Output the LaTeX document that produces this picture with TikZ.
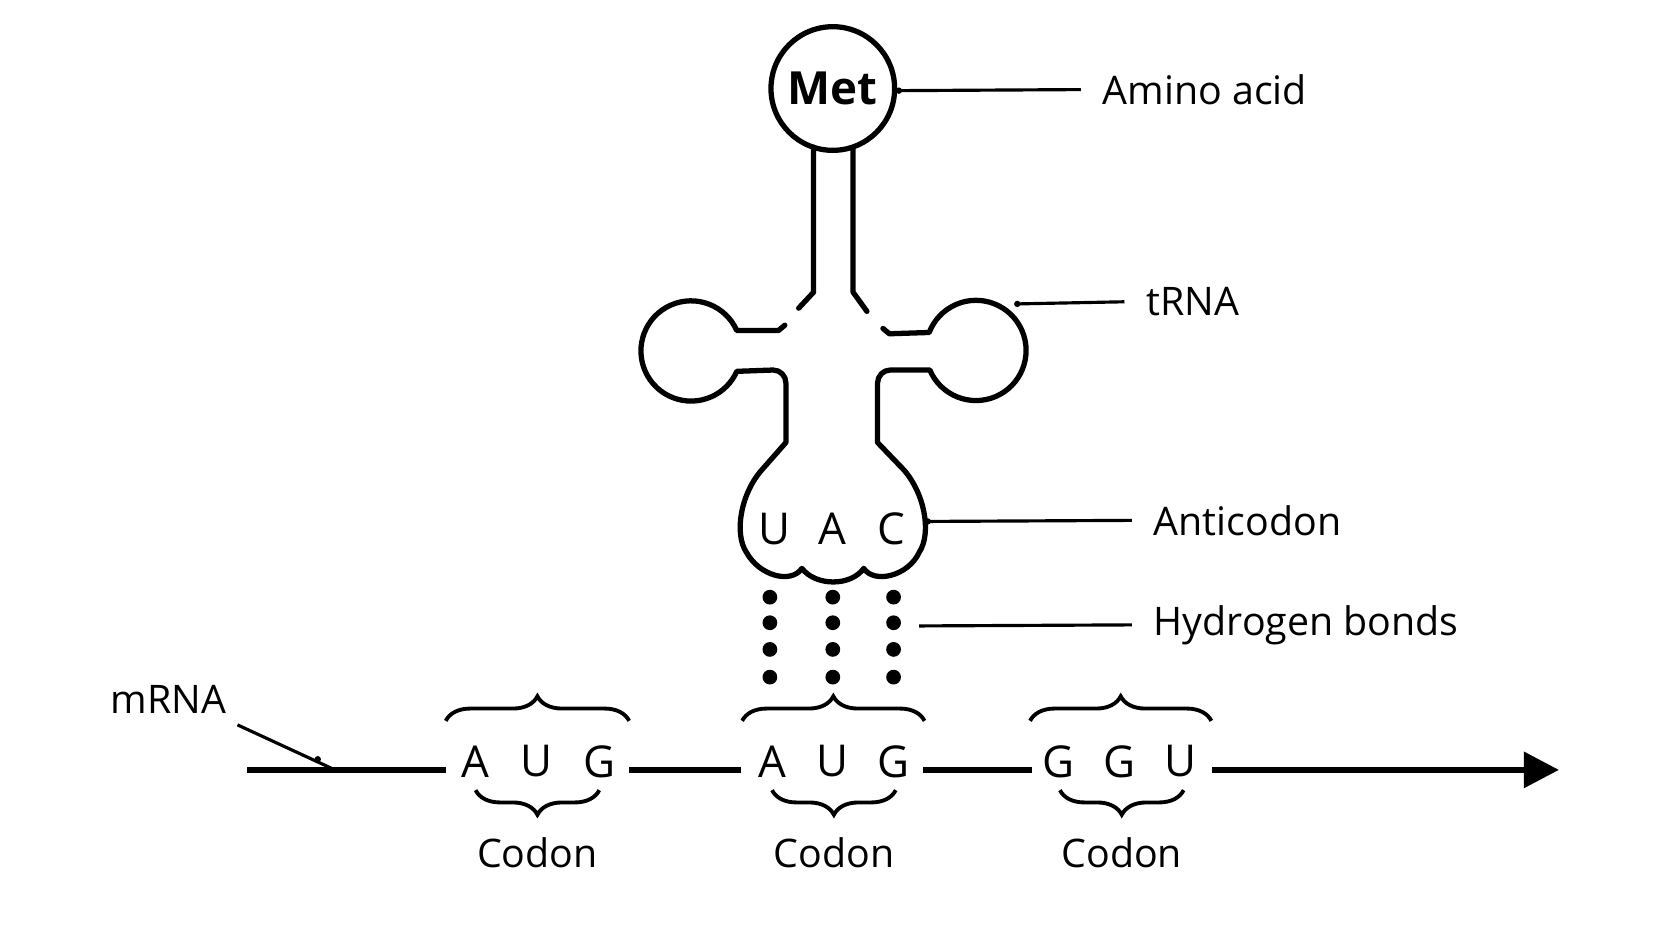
\documentclass[tikz,border=0pt]{standalone}
\usepackage{fontspec}
\setmainfont{Open Sans}
\usetikzlibrary{arrows.meta,decorations.pathreplacing,positioning}
\tikzset{
  strand/.style={line width=1.5pt,line cap=round,line join=round},
  lead/.style={line width=0.9pt},
  lbl/.style={font=\fontsize{11.2}{13}\selectfont,inner sep=1pt},
  base/.style={font=\fontsize{12.5}{15}\selectfont,inner sep=1pt},
  brc/.style={line width=1.1pt,decorate,decoration={brace,amplitude=7pt}},
  hb/.style={circle,fill,inner sep=0pt,minimum size=4.2pt},
}
\begin{document}
\begin{tikzpicture}[x=0.010663cm,y=-0.010663cm]
\useasboundingbox (0,0) rectangle (1568,882);
% amino acid and acceptor stem
    \node[circle,draw,line width=1.5pt,minimum size=1.237cm,inner sep=0pt,font=\fontsize{13}{15}\selectfont\bfseries] (met) at (781,83) {Met};
    \draw[strand] (763,138) -- (763,274) -- (749,289);
    \draw[strand] (800,138) -- (800,274) -- (813,292);
% side loops
    \draw[strand] (736,305) -- (730,310) -- (691,310) arc[start angle=-24,end angle=-336,radius=47] -- (725,347)
       arc[start angle=-90,end angle=0,radius=12] -- (737,415) -- (715,440)
       .. controls (695,462) and (688,500) .. (700,518)
       .. controls (712,540) and (742,548) .. (752,533)
       .. controls (765,550) and (798,550) .. (810,533)
       .. controls (820,548) and (852,540) .. (862,518)
       .. controls (874,500) and (867,462) .. (847,440)
       -- (823,415) -- (823,359) arc[start angle=180,end angle=270,radius=12] -- (872,347)
       arc[start angle=157,end angle=-159,radius=47] -- (834,313) -- (828,308);
% anticodon
    \node[base] (u1) at (726,496) {U};
    \node[base] (a1) at (781,496) {A};
    \node[base] (c1) at (836,496) {C};
% hydrogen bonds
    \foreach \xp in {722,781,838}{
      \foreach \yp in {560,584,609,635}{\node[hb] at (\xp,\yp) {};}}
% mRNA
    \coordinate (m0) at (232,722);
    \coordinate (mend) at (1462,722);
    \node[base] (b1) at (446,714) {A};
    \node[base] (b2) at (503,714) {U};
    \node[base] (b3) at (562,714) {G};
    \node[base] (b4) at (724,714) {A};
    \node[base] (b5) at (781,714) {U};
    \node[base] (b6) at (838,714) {G};
    \node[base] (b7) at (993,714) {G};
    \node[base] (b8) at (1050,714) {G};
    \node[base] (b9) at (1107,714) {U};
    \draw[line width=1.7pt] (m0) -- (418,722);
    \draw[line width=1.7pt] (590,722) -- (695,722);
    \draw[line width=1.7pt] (866,722) -- (968,722);
    \draw[line width=1.7pt,-{Triangle[length=10pt,width=10pt]}] (1137,722) -- (mend);
% codon braces
    \foreach \xa/\xb in {418/590,696/867,966/1136}{\draw[brc] (\xa,676) -- (\xb,676);}
    \foreach \xa/\xb in {446/562,724/840,994/1110}{\draw[brc] (\xb,741) -- (\xa,741);}
    \node[lbl] (k1) at (504,800) {Codon};
    \node[lbl] (k2) at (782,800) {Codon};
    \node[lbl] (k3) at (1052,800) {Codon};
% labels
    \node[lbl,anchor=west] (aa) at (1030,84) {Amino acid};
    \node[lbl,anchor=west] (trna) at (1071,283) {tRNA};
    \node[lbl,anchor=west] (anti) at (1078,488) {Anticodon};
    \node[lbl,anchor=west] (hbl) at (1078,586) {Hydrogen bonds};
    \node[lbl] (mrna) at (158,656) {mRNA};
    \coordinate (p1) at (843,85);
    \coordinate (p2) at (954,285);
    \coordinate (p3) at (870,489);
    \coordinate (p4) at (862,587);
    \coordinate (p5) at (298,712);
    \draw[lead] (p1) -- ([xshift=-5pt]aa.west);
    \draw[lead] (p2) -- ([xshift=-5pt]trna.west);
    \draw[lead] (p3) -- ([xshift=-5pt]anti.west);
    \draw[lead] (p4) -- ([xshift=-5pt]hbl.west);
    \draw[lead] ([shift={(2pt,-2pt)}]mrna.south east) -- (312,721);
    \foreach \p in {p1,p2,p3,p5}{\fill (\p) circle (3);}
\end{tikzpicture}
\end{document}
